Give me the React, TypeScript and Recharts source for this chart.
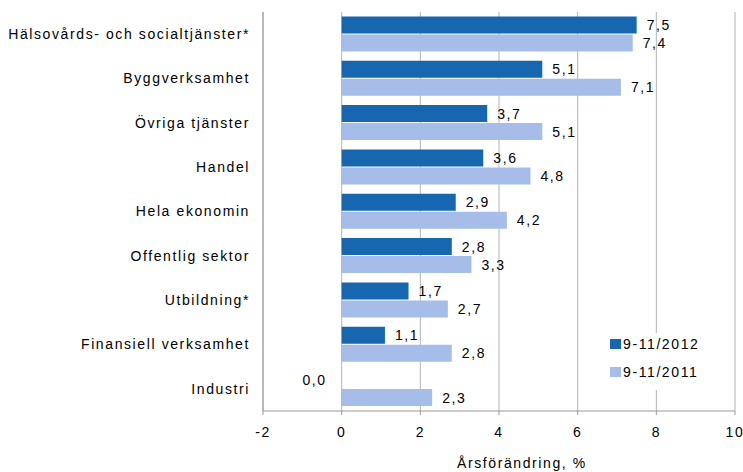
import React from 'react';
import { BarChart, Bar, XAxis, YAxis, CartesianGrid, LabelList } from 'recharts';

const categories = [
  'Hälsovårds- och socialtjänster*',
  'Byggverksamhet',
  'Övriga tjänster',
  'Handel',
  'Hela ekonomin',
  'Offentlig sektor',
  'Utbildning*',
  'Finansiell verksamhet',
  'Industri',
];
const values2012 = [7.5, 5.1, 3.7, 3.6, 2.9, 2.8, 1.7, 1.1, 0.0];
const values2011 = [7.4, 7.1, 5.1, 4.8, 4.2, 3.3, 2.7, 2.8, 2.3];
const xTicks = [-2, 0, 2, 4, 6, 8, 10];
const seriesNames = ['9-11/2012', '9-11/2011'];

const DARK = '#1766b0';
const LIGHT = '#a6bdea';
const FONT = '"Liberation Sans", Arial, sans-serif';
const LS = 1.6;
const GRID = '#b4b4b4';
const FRAME = '#9a9a9a';
const BAR_GAP = 1;

const data = categories.map((name, i) => ({
  name,
  v2012: values2012[i],
  v2011: values2011[i],
}));

const fmt = (v: number) => v.toFixed(1).replace('.', ',');

const labelText = (key: string, x: number, y: number, anchor: 'start' | 'end', v: number) => (
  <text key={key} x={x} y={y} textAnchor={anchor} dominantBaseline="central"
    fontFamily={FONT} fontSize={14} letterSpacing={LS} fill="#000">
    {fmt(v)}
  </text>
);

const renderLabel2012 = (props: any) => {
  const { x, y, width, height, value } = props;
  const v = Number(value);
  if (v === 0) return null;
  return labelText('a', Number(x) + Number(width) + 10, Number(y) + Number(height) / 2, 'start', v);
};

const renderLabel2011 = (props: any) => {
  const { x, y, width, height, value, index } = props;
  const v = Number(value);
  const h = Number(height);
  const items = [labelText('b', Number(x) + Number(width) + 10, Number(y) + h / 2, 'start', v)];
  const other = values2012[index];
  if (other === 0) {
    // zero-valued bar of the upper series: label placed left of the zero line
    items.push(labelText('c', Number(x) - 15, Number(y) - BAR_GAP - h / 2, 'end', other));
  }
  return <g>{items}</g>;
};

export default function App() {
  return (
    <div style={{ position: 'absolute', left: 0, top: 0, width: 743, height: 472, background: '#fff', overflow: 'hidden' }}>
      <BarChart
        width={743}
        height={472}
        data={data}
        layout="vertical"
        margin={{ top: 12, right: 8, bottom: 31, left: 0 }}
        barCategoryGap="10%"
        barGap={BAR_GAP}
      >
        <CartesianGrid horizontal={false} stroke={GRID} />
        <XAxis
          type="number"
          domain={[-2, 10]}
          ticks={xTicks}
          interval={0}
          height={30}
          tickSize={4}
          tickMargin={12}
          axisLine={{ stroke: FRAME }}
          tickLine={{ stroke: FRAME }}
          tick={{ fontSize: 14, fill: '#000', fontFamily: FONT, letterSpacing: LS }}
        />
        <XAxis
          xAxisId="top"
          orientation="top"
          type="number"
          domain={[-2, 10]}
          ticks={xTicks}
          height={0}
          tick={false}
          tickLine={false}
          axisLine={{ stroke: FRAME }}
        />
        <YAxis
          type="category"
          dataKey="name"
          width={263}
          interval={0}
          tickSize={0}
          tickMargin={13}
          tickLine={false}
          axisLine={{ stroke: FRAME }}
          tick={{ fontSize: 14, fill: '#000', fontFamily: FONT, letterSpacing: LS }}
        />
        <Bar dataKey="v2012" name={seriesNames[0]} fill={DARK} isAnimationActive={false}>
          <LabelList dataKey="v2012" content={renderLabel2012} />
        </Bar>
        <Bar dataKey="v2011" name={seriesNames[1]} fill={LIGHT} isAnimationActive={false}>
          <LabelList dataKey="v2011" content={renderLabel2011} />
        </Bar>
      </BarChart>
      <div style={{ position: 'absolute', left: 604, top: 333, width: 104, height: 57, background: '#fff', fontFamily: FONT, fontSize: 14, letterSpacing: LS, color: '#000' }}>
        {seriesNames.map((n, i) => (
          <div key={n} style={{ position: 'absolute', left: 6, top: 3 + i * 28, height: 16, display: 'flex', alignItems: 'center', whiteSpace: 'nowrap' }}>
            <span style={{ display: 'inline-block', width: 11, height: 10, background: i === 0 ? DARK : LIGHT, marginRight: 2 }} />
            <span>{n}</span>
          </div>
        ))}
      </div>
      <div style={{ position: 'absolute', left: 457, top: 455, fontFamily: FONT, fontSize: 14, letterSpacing: LS, color: '#000', whiteSpace: 'nowrap', lineHeight: '16px' }}>
        Årsförändring, %
      </div>
    </div>
  );
}
